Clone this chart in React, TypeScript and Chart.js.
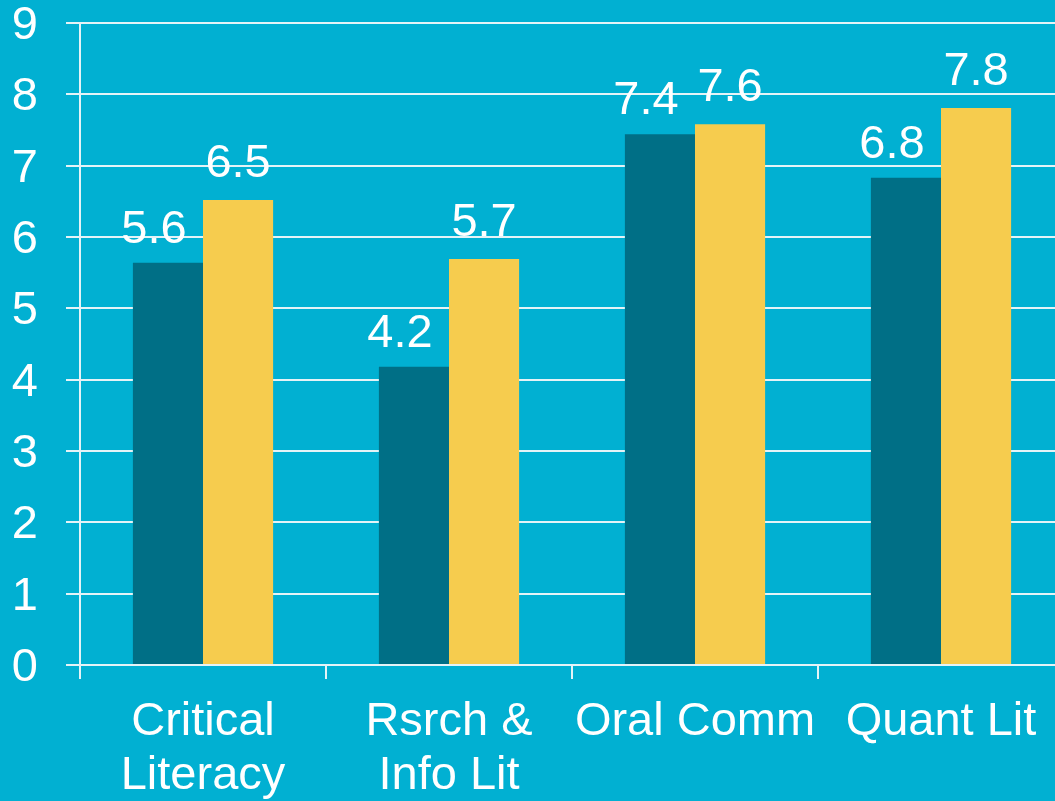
import React, { useEffect, useRef } from "react";
import { Chart, registerables } from "chart.js";

Chart.register(...registerables);

const categories: (string | string[])[] = [
  ["Critical", "Literacy"],
  ["Rsrch &", "Info Lit"],
  "Oral Comm",
  "Quant Lit",
];
const seriesDark = [5.64, 4.18, 7.44, 6.83];
const seriesYellow = [6.52, 5.69, 7.58, 7.81];
const yTicks = [0, 1, 2, 3, 4, 5, 6, 7, 8, 9];

const BG = "#01B0D2";
const DARK = "#006F86";
const YELLOW = "#F6CC4E";
const GRID = "#e4f3f7";
const FONT = "'Liberation Sans', Arial, sans-serif";

const valueLabels = {
  id: "valueLabels",
  afterDatasetsDraw(chart: any) {
    const ctx = chart.ctx;
    ctx.save();
    ctx.fillStyle = "#ffffff";
    ctx.font = `47px ${FONT}`;
    ctx.textAlign = "center";
    ctx.textBaseline = "alphabetic";
    chart.data.datasets.forEach((ds: any, di: number) => {
      const meta = chart.getDatasetMeta(di);
      meta.data.forEach((el: any, i: number) => {
        const v = ds.data[i] as number;
        const dx = di === 0 ? -14 : 0;
        const gap = di === 0 ? 20 : 23;
        ctx.fillText(v.toFixed(1), el.x + dx, el.y - gap);
      });
    });
    ctx.restore();
  },
};

export default function App() {
  const ref = useRef<HTMLCanvasElement | null>(null);

  useEffect(() => {
    if (!ref.current) return;
    const chart = new Chart(ref.current, {
      type: "bar",
      data: {
        labels: categories,
        datasets: [
          {
            data: seriesDark,
            backgroundColor: DARK,
            barPercentage: 1,
            categoryPercentage: 0.57,
          },
          {
            data: seriesYellow,
            backgroundColor: YELLOW,
            barPercentage: 1,
            categoryPercentage: 0.57,
          },
        ],
      },
      options: {
        responsive: false,
        animation: false,
        layout: { padding: { top: 23, right: 0, left: 0, bottom: 0 } },
        plugins: {
          legend: { display: false },
          tooltip: { enabled: false },
        },
        scales: {
          y: {
            min: 0,
            max: 9,
            afterBuildTicks: (scale: any) => {
              scale.ticks = yTicks.map((v) => ({ value: v }));
            },
            afterFit: (scale: any) => {
              scale.width = 80;
              scale.paddingTop = 0;
              scale.paddingBottom = 0;
            },
            grid: {
              color: GRID,
              lineWidth: 2,
              tickLength: 14,
            },
            border: { display: true, color: GRID, width: 2 },
            ticks: {
              color: "#ffffff",
              padding: 28,
              labelOffset: 3,
              font: { family: FONT, size: 47 },
            },
          },
          x: {
            afterFit: (scale: any) => {
              scale.height = 136;
              scale.paddingLeft = 0;
              scale.paddingRight = 0;
            },
            grid: {
              drawOnChartArea: false,
              drawTicks: true,
              tickLength: 14,
              color: GRID,
              lineWidth: 2,
            },
            border: { display: true, color: GRID, width: 2 },
            ticks: {
              color: "#ffffff",
              padding: 16,
              maxRotation: 0,
              autoSkip: false,
              font: { family: FONT, size: 47, lineHeight: 1.15 },
            },
          },
        },
      },
      plugins: [valueLabels],
    });
    return () => chart.destroy();
  }, []);

  return (
    <div
      style={{
        position: "fixed",
        left: 0,
        top: 0,
        width: 1055,
        height: 801,
        overflow: "hidden",
        background: BG,
      }}
    >
      <canvas
        ref={ref}
        width={1064}
        height={801}
        style={{ display: "block", width: 1064, height: 801 }}
      />
    </div>
  );
}
